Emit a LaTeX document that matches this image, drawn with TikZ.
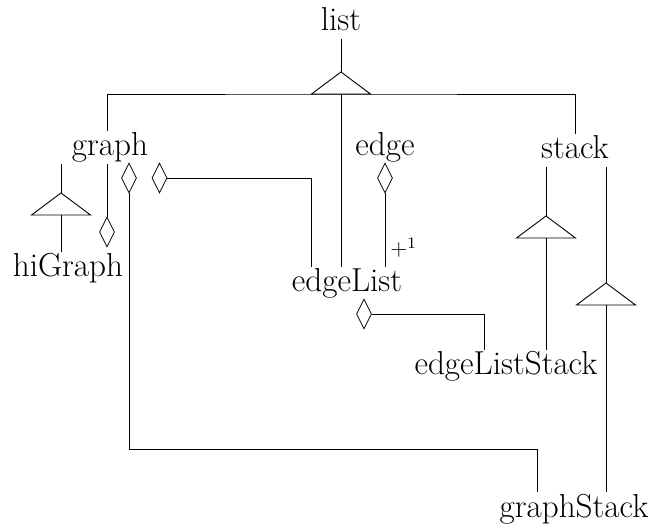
\documentclass[tikz,border=0pt]{standalone}
\usetikzlibrary{shapes.geometric}

\tikzset{
  lbl/.style={font=\fontsize{16.6}{20}\selectfont, inner xsep=0pt, inner ysep=0pt,
    outer ysep=1pt, text height=11.5pt, text depth=3.2pt, anchor=base},
  agg/.style={draw, shape=diamond, inner sep=0pt, minimum width=7.5pt,
    minimum height=15pt, line width=0.4pt},
  conn/.style={line width=0.45pt},
  inh/.pic={
    \draw[line width=0.45pt] (0,0) -- (-29.5,22) -- (29.5,22) -- cycle;
    \coordinate (-top) at (0,0);
    \coordinate (-base) at (0,22);
  }
}

\begin{document}
\begin{tikzpicture}[x=0.5pt, y=-0.5pt]
  \useasboundingbox (0,0) rectangle (654,529);

  % class names
  \node[lbl] (list)          at (341,31)  {list};
  \node[lbl] (graph)         at (110,156) {graph};
  \node[lbl] (edge)          at (385,156) {edge};
  \node[lbl] (stack)         at (575,159) {stack};
  \node[lbl] (hiGraph)       at (68,277)  {hiGraph};
  \node[lbl] (edgeList)      at (347,292) {edgeList};
  \node[lbl] (edgeListStack) at (506,375) {edgeListStack};
  \node[lbl] (graphStack)    at (574,517) {graphStack};

  % inheritance triangles
  \pic (t0) at (341,72)  {inh};
  \pic (t1) at (61,193)  {inh};
  \pic (t2) at (546,216) {inh};
  \pic (t3) at (606,283) {inh};

  % aggregation diamonds
  \node[agg] (d1) at (107,232)   {};
  \node[agg] (d2) at (129,178)   {};
  \node[agg] (d3) at (159.5,178) {};
  \node[agg] (d4) at (385,178)   {};
  \node[agg] (d5) at (364,314)   {};

  % bend points
  \coordinate (bendEL)  at (311,178);
  \coordinate (bendGS)  at (537,449);
  \coordinate (bendELS) at (484,314);

  % list and its subclasses
  \draw[conn] (list.south) -- (t0-top);
  \draw[conn] (graph.north -| d1.north) |- (t0-base) -| (stack.north);
  \draw[conn] (t0-base) -- (edgeList.north -| t0-base);

  % graph -> hiGraph
  \draw[conn] (graph.south -| t1-top) -- (t1-top);
  \draw[conn] (t1-base) -- (hiGraph.north -| t1-base);
  \draw[conn] (graph.south -| d1.north) -- (d1.north);

  % graph -> graphStack
  \draw[conn] (d2.south) |- (bendGS) -- (graphStack.north -| bendGS);

  % graph -> edgeList
  \draw[conn] (d3.east) -| (edgeList.north -| bendEL);

  % edge -> edgeList
  \draw[conn] (d4.south) -- (edgeList.north -| d4.south);
  \node[font=\fontsize{11}{12}\selectfont, inner sep=0pt, anchor=base west]
    (mult) at (390,256) {$+^{1}$};

  % edgeList -> edgeListStack
  \draw[conn] (d5.east) -| (edgeListStack.north -| bendELS);

  % stack -> edgeListStack, graphStack
  \draw[conn] (stack.south -| t2-top) -- (t2-top);
  \draw[conn] (t2-base) -- (edgeListStack.north -| t2-base);
  \draw[conn] (stack.south -| t3-top) -- (t3-top);
  \draw[conn] (t3-base) -- (graphStack.north -| t3-base);
\end{tikzpicture}
\end{document}
